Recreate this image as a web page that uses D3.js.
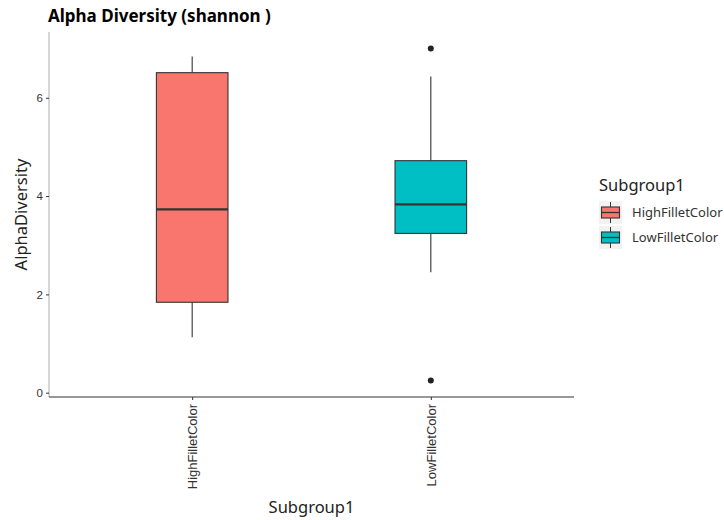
<!DOCTYPE html>
<html>
<head>
<meta charset="utf-8">
<script src="https://cdn.jsdelivr.net/npm/d3@7"></script>
<style>
  body { margin: 0; background: #fff; }
  text { font-family: "Noto Sans", "DejaVu Sans", sans-serif; }
</style>
</head>
<body>
<svg id="chart" width="724" height="520"></svg>
<script>
// Five-number summaries per subgroup (Shannon index)
const groups      = ["HighFilletColor", "LowFilletColor"];
const colors      = ["#F8766D", "#00BFC4"];
const whiskerLow  = [1.13, 2.45];
const q1          = [1.84, 3.24];
const medians     = [3.73, 3.83];
const q3          = [6.51, 4.72];
const whiskerHigh = [6.84, 6.43];
const outliers    = [[], [7.0, 0.25]];
const yTicks      = [0, 2, 4, 6];

const svg = d3.select("#chart");
const panel = { left: 49, right: 574, top: 32, bottom: 397 };

const allVals = groups.flatMap((g, i) => [whiskerLow[i], whiskerHigh[i], ...outliers[i]]);
const yMin = d3.min(allVals), yMax = d3.max(allVals);
const pad = (yMax - yMin) * 0.05;
const y = d3.scaleLinear().domain([yMin - pad, yMax + pad]).range([panel.bottom, panel.top]);

const x = d3.scalePoint().domain(groups).range([panel.left, panel.right]).padding(0.6);
const step = x.step();
const boxW = step * 0.3;

// Title
svg.append("text").attr("x", 48).attr("y", 22)
  .attr("font-size", 17).attr("font-weight", "bold").attr("fill", "#000")
  .text("Alpha Diversity (shannon )");

// Y axis
const yAxis = svg.append("g").attr("transform", `translate(${panel.left},0)`)
  .call(d3.axisLeft(y).tickValues(yTicks).tickSize(3).tickPadding(3));
yAxis.select(".domain").attr("stroke", "#c8c8c8").attr("stroke-width", 1.5)
  .attr("d", `M0,${panel.top}V${panel.bottom}`);
yAxis.selectAll(".tick line").attr("stroke", "#333");
yAxis.selectAll(".tick text").attr("font-size", 11.5).attr("fill", "#333")
  .style("font-family", "'Liberation Sans', Arial, sans-serif");

// X axis
const xAxis = svg.append("g").attr("transform", `translate(0,${panel.bottom})`)
  .call(d3.axisBottom(x).tickSize(3).tickPadding(4));
xAxis.select(".domain").attr("stroke", "#333").attr("stroke-width", 1.2)
  .attr("d", `M${panel.left},0H${panel.right}`);
xAxis.selectAll(".tick line").attr("stroke", "#333");
xAxis.selectAll(".tick text")
  .attr("font-size", 13).attr("fill", "#333")
  .style("font-family", "'Liberation Sans', Arial, sans-serif")
  .attr("transform", "rotate(-90)")
  .attr("text-anchor", "end")
  .attr("x", -7).attr("y", 0).attr("dy", "0.35em");

// Axis titles
svg.append("text")
  .attr("transform", `translate(27,${(panel.top + panel.bottom) / 2}) rotate(-90)`)
  .attr("text-anchor", "middle").attr("font-size", 16.5).attr("fill", "#222")
  .text("AlphaDiversity");
svg.append("text")
  .attr("x", (panel.left + panel.right) / 2).attr("y", 513)
  .attr("text-anchor", "middle").attr("font-size", 16.5).attr("fill", "#222")
  .text("Subgroup1");

// Boxplots
const boxes = svg.append("g");
groups.forEach((g, i) => {
  const cx = x(g);
  const gg = boxes.append("g");
  gg.append("line").attr("x1", cx).attr("x2", cx)
    .attr("y1", y(q3[i])).attr("y2", y(whiskerHigh[i]))
    .attr("stroke", "#333").attr("stroke-width", 1.1);
  gg.append("line").attr("x1", cx).attr("x2", cx)
    .attr("y1", y(q1[i])).attr("y2", y(whiskerLow[i]))
    .attr("stroke", "#333").attr("stroke-width", 1.1);
  gg.append("rect").attr("x", cx - boxW / 2).attr("width", boxW)
    .attr("y", y(q3[i])).attr("height", y(q1[i]) - y(q3[i]))
    .attr("fill", colors[i]).attr("stroke", "#333").attr("stroke-width", 1.1);
  gg.append("line").attr("x1", cx - boxW / 2).attr("x2", cx + boxW / 2)
    .attr("y1", y(medians[i])).attr("y2", y(medians[i]))
    .attr("stroke", "#333").attr("stroke-width", 2.2);
  outliers[i].forEach(v => {
    gg.append("circle").attr("cx", cx).attr("cy", y(v)).attr("r", 3)
      .attr("fill", "#222");
  });
});

// Legend
const leg = svg.append("g").attr("transform", "translate(599,0)");
leg.append("text").attr("x", 0).attr("y", 191).attr("font-size", 16.5).attr("fill", "#222")
  .text("Subgroup1");
groups.forEach((g, i) => {
  const top = 201 + i * 25;
  const k = leg.append("g").attr("transform", `translate(0,${top})`);
  k.append("rect").attr("x", 0).attr("y", 0).attr("width", 23).attr("height", 23).attr("fill", "#f2f2f2");
  k.append("line").attr("x1", 11.5).attr("x2", 11.5).attr("y1", 1).attr("y2", 22).attr("stroke", "#333");
  k.append("rect").attr("x", 2.5).attr("y", 6).attr("width", 18).attr("height", 11)
    .attr("fill", colors[i]).attr("stroke", "#333").attr("stroke-width", 1.1);
  k.append("line").attr("x1", 2.5).attr("x2", 20.5).attr("y1", 11.5).attr("y2", 11.5).attr("stroke", "#333").attr("stroke-width", 1.3);
  k.append("text").attr("x", 33).attr("y", 16).attr("font-size", 13).attr("fill", "#333").text(g);
});
</script>
</body>
</html>
